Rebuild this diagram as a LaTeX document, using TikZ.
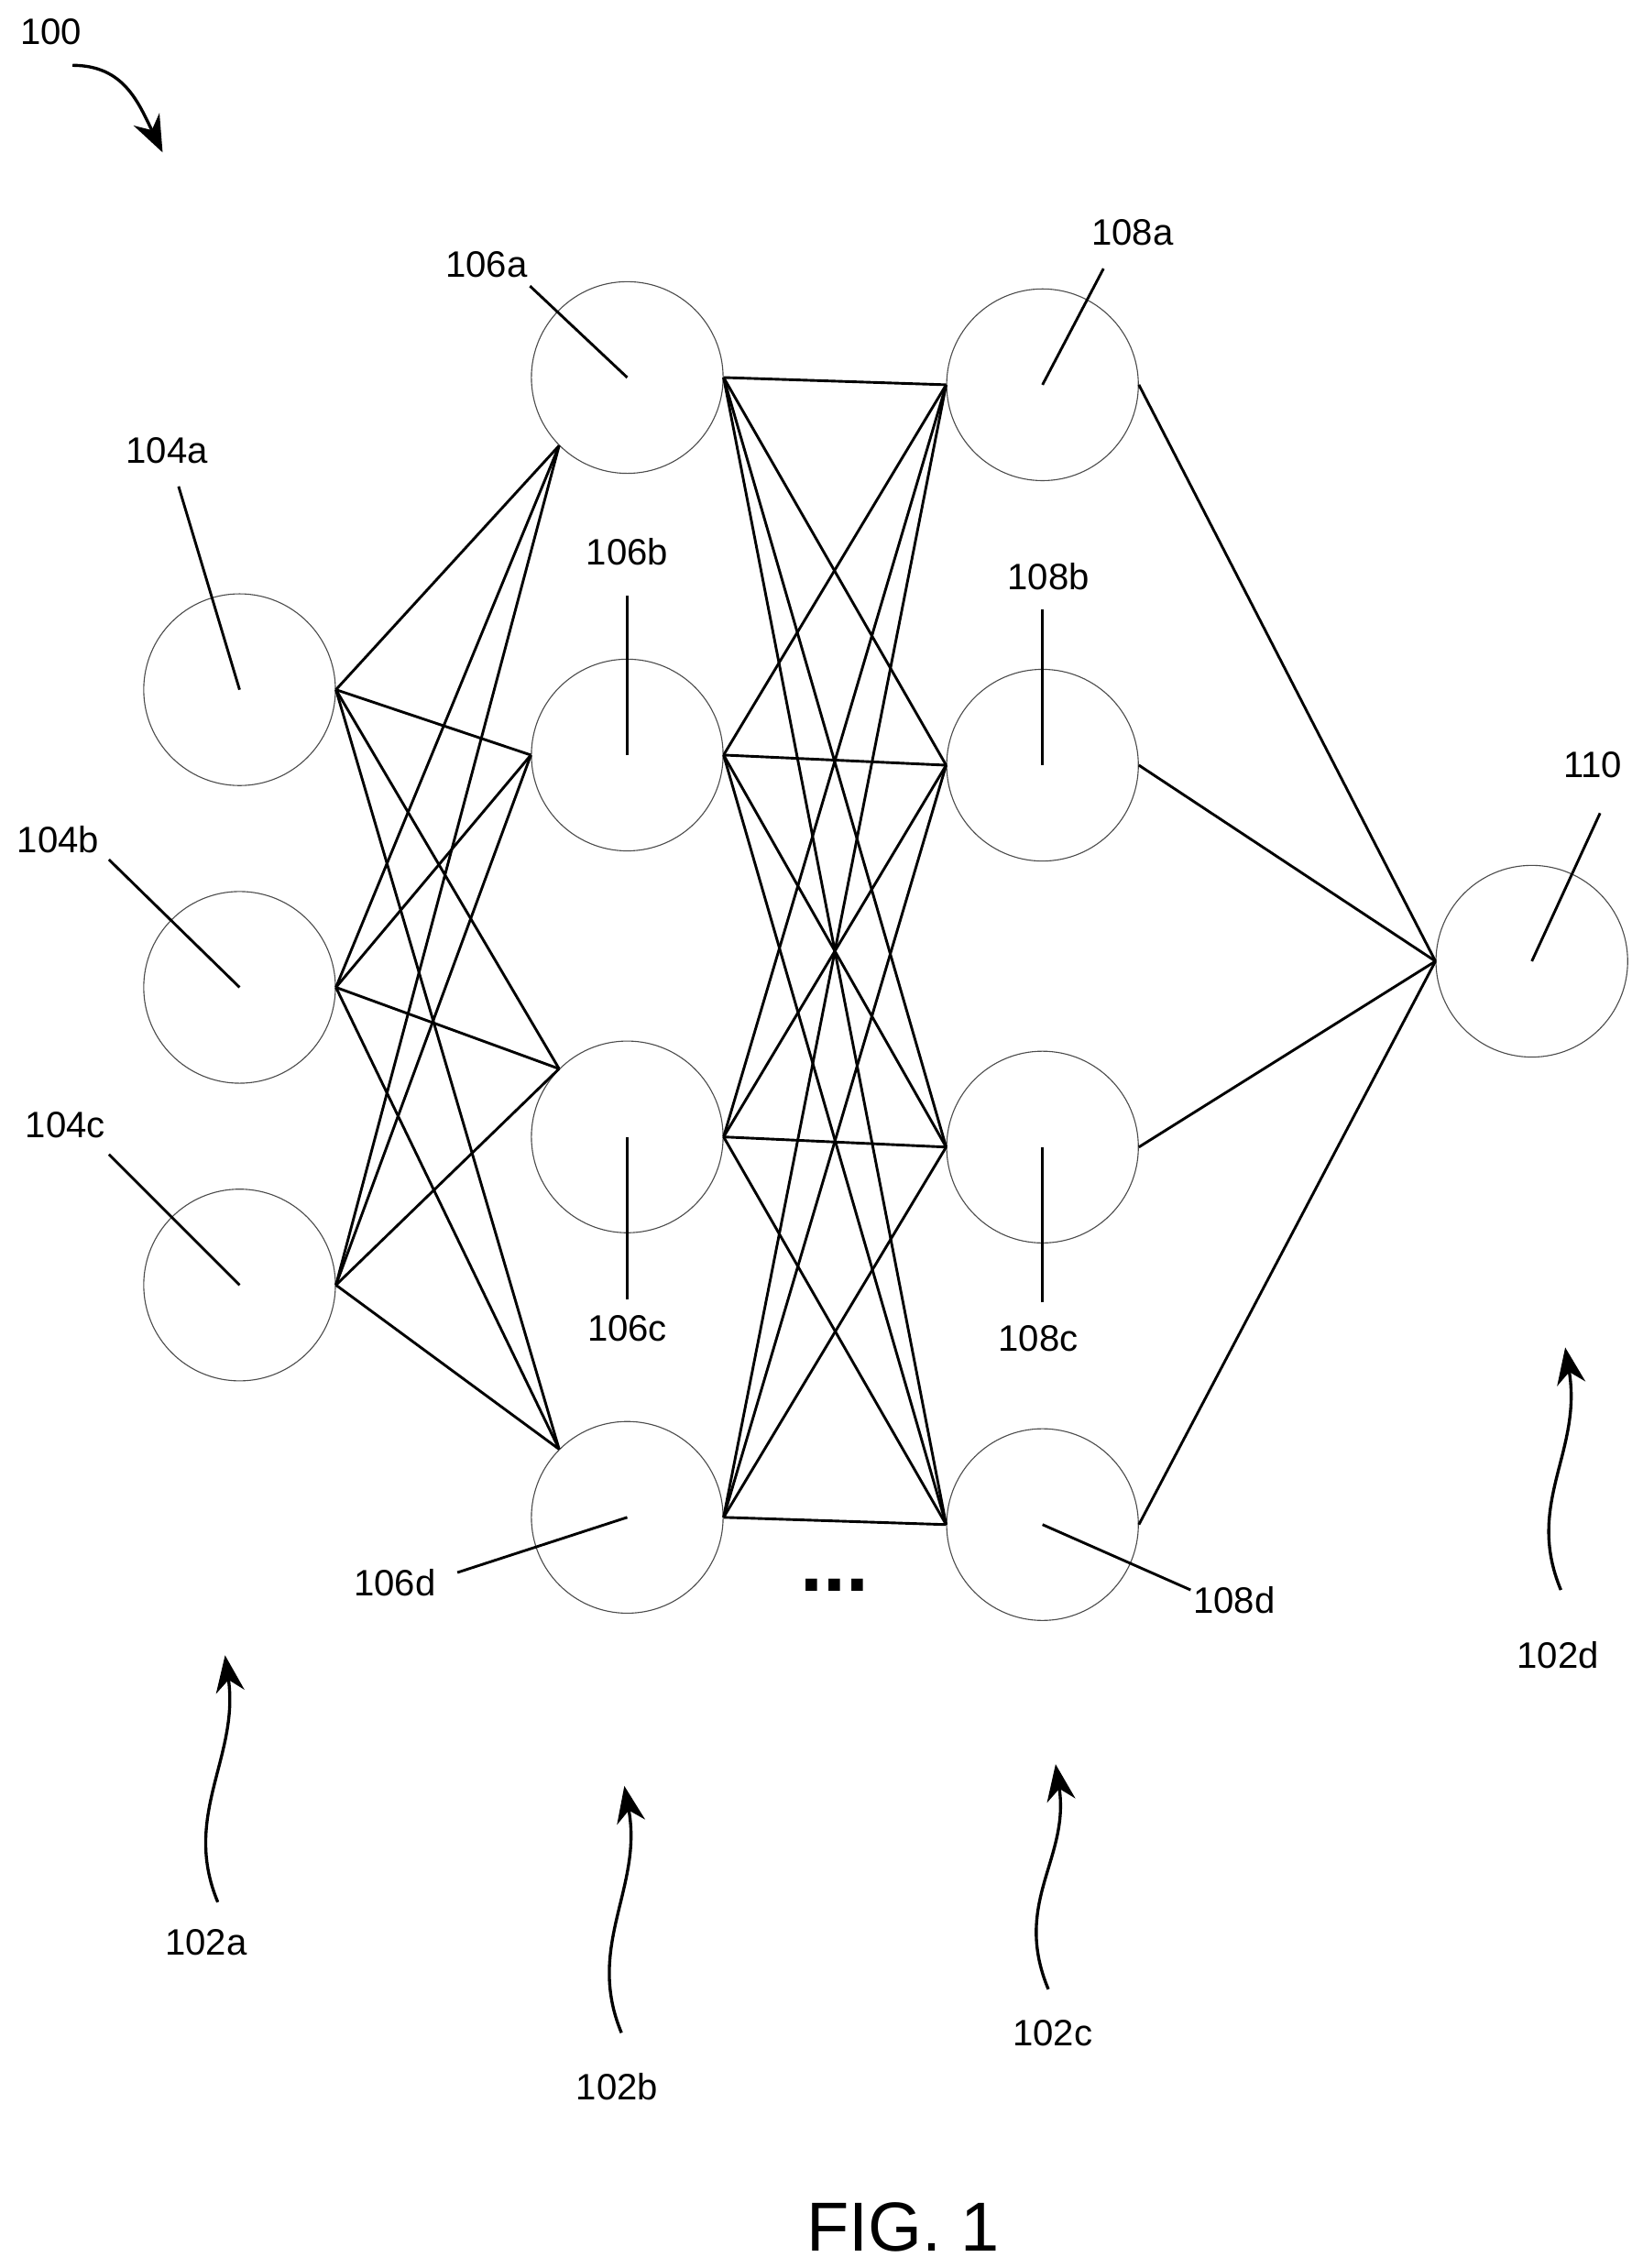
\documentclass[tikz,border=0pt]{standalone}
\usepackage{fontspec}
\setmainfont{Liberation Sans}
\usetikzlibrary{arrows.meta}
\begin{document}
\begin{tikzpicture}[x=0.025cm, y=-0.025cm, font=\fontsize{18}{20}\selectfont,
    neuron/.style={circle, draw=black!70, line width=0.5pt, minimum size=3.3cm, inner sep=0pt},
    link/.style={line width=1.3pt},
    lead/.style={line width=1.3pt},
    wave/.style={line width=1.5pt, -{Stealth[length=18pt, width=14pt]}}
  ]
\useasboundingbox (0,0) rectangle (1131,1562);
% neurons
\foreach \n/\y in {a/475,b/680,c/885} {\node[neuron] (n104\n) at (165,\y) {};}
\foreach \n/\y in {a/260,b/520,c/783,d/1045} {\node[neuron] (n106\n) at (432,\y) {};}
\foreach \n/\y in {a/265,b/527,c/790,d/1050} {\node[neuron] (n108\n) at (718,\y) {};}
\node[neuron] (n110) at (1055,662) {};
% connections
\foreach \i in {a,b,c} {
  \foreach \j/\ang in {a/225,b/180,c/135,d/135} {\draw[link] (n104\i.0) -- (n106\j.\ang);}
}
\foreach \i in {a,b,c,d} {
  \foreach \j in {a,b,c,d} {\draw[link] (n106\i.0) -- (n108\j.180);}
  \draw[link] (n108\i.0) -- (n110.180);
}
% labels with leader lines
\node (l104a) at (115,310) {104a}; \draw[lead] (123,335) -- (n104a.center);
\node (l104b) at (40,578) {104b};  \draw[lead] (75,592) -- (n104b.center);
\node (l104c) at (45,775) {104c};  \draw[lead] (75,795) -- (n104c.center);
\node (l106a) at (335,182) {106a}; \draw[lead] (365,197) -- (n106a.center);
\node (l106b) at (432,380) {106b}; \draw[lead] (432,410) -- (n106b.center);
\node (l106c) at (432,915) {106c}; \draw[lead] (432,895) -- (n106c.center);
\node (l106d) at (272,1090) {106d}; \draw[lead] (315,1083) -- (n106d.center);
\node (l108a) at (780,160) {108a}; \draw[lead] (760,185) -- (n108a.center);
\node (l108b) at (722,397) {108b}; \draw[lead] (718,420) -- (n108b.center);
\node (l108c) at (715,922) {108c}; \draw[lead] (718,897) -- (n108c.center);
\node (l108d) at (850,1102) {108d}; \draw[lead] (820,1095) -- (n108d.center);
\node (l110) at (1097,527) {110}; \draw[lead] (1102,560) -- (n110.center);
% figure reference
\node (l100) at (35,22) {100};
\draw[wave] (50,45) .. controls (85,45) and (95,70) .. (112,105);
% layer arrows
\node (l102a) at (142,1338) {102a};
\draw[wave] (150,1310) .. controls (125,1250) and (165,1210) .. (155,1140);
\node (l102b) at (425,1437) {102b};
\draw[wave] (428,1400) .. controls (403,1340) and (443,1300) .. (430,1230);
\node (l102c) at (725,1400) {102c};
\draw[wave] (722,1370) .. controls (697,1310) and (737,1280) .. (727,1215);
\node (l102d) at (1073,1140) {102d};
\draw[wave] (1075,1095) .. controls (1050,1035) and (1090,1000) .. (1078,928);
% dots and caption
\node (dots) at (575,1092) {\fontsize{40}{40}\selectfont\textbf{...}};
\node (fig) at (622,1534) {\fontsize{34}{36}\selectfont FIG. 1};
\end{tikzpicture}
\end{document}
